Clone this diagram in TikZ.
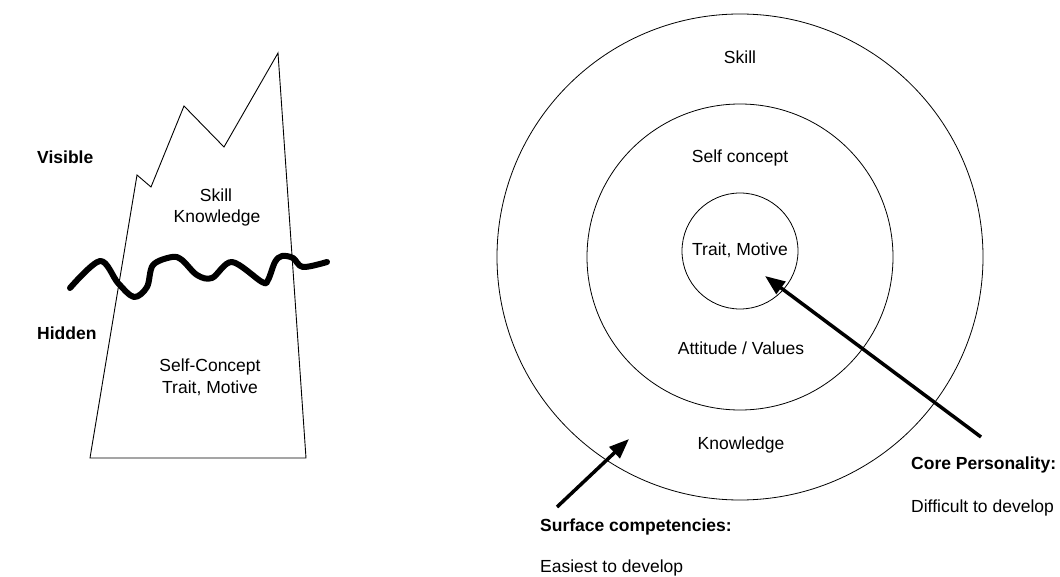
\documentclass[tikz,border=0pt]{standalone}
\usepackage{fontspec}
\setmainfont{Liberation Sans}
\usetikzlibrary{arrows.meta}
\begin{document}
\begin{tikzpicture}[x=1pt,y=-1pt,
  lbl/.style={inner sep=0pt,font=\fontsize{17.5}{21}\selectfont},
  blbl/.style={inner sep=0pt,anchor=west,font=\fontsize{17.5}{21}\selectfont\bfseries},
  plbl/.style={inner sep=0pt,anchor=west,font=\fontsize{17.5}{21}\selectfont},
  ring/.style={draw,line width=0.8pt},
  pointer/.style={line width=3.5pt,-{Triangle[length=20pt,width=15pt]}},
  wave/.style={line width=6pt,line cap=round,line join=round}]
\useasboundingbox (0,0) rectangle (1060,577);
% iceberg
\draw[line width=0.9pt] (90,458) -- (137,175) -- (151,187) -- (184,106) -- (224,147) -- (278,53) -- (306,458) -- cycle;
\node[blbl] (vis) at (37,157) {Visible};
\node[blbl] (hid) at (37,333) {Hidden};
\node[lbl] (sk1) at (216,195) {Skill};
\node[lbl] (kn1) at (217,218) {Knowledge};
\node[lbl] (sc1) at (210,367) {Self-Concept};
\node[lbl] (tm1) at (210,388) {Trait, Motive};
\draw[wave] plot[smooth,tension=0.55] coordinates {(70,288) (100,261) (118,283) (134,297) (147,287) (153,265) (172,257) (182,260) (197,275) (212,278) (232,262) (262,282) (268,280) (275,262) (282,256) (293,258) (303,267) (327,262)};
% circles
\node[ring,circle,minimum size=486pt,inner sep=0pt] (outer) at (740,257) {};
\node[ring,circle,minimum size=306pt,inner sep=0pt] (middle) at (740,257) {};
\node[ring,circle,minimum size=116pt,inner sep=0pt] (inner) at (740,251) {};
\node[lbl] (sk2) at (740,57) {Skill};
\node[lbl] (scp) at (740,158) {Self concept};
\node[lbl] (tm2) at (740,250) {Trait, Motive};
\node[lbl] (av) at (741,348) {Attitude / Values};
\node[lbl] (kn2) at (741,445) {Knowledge};
% labels and arrows
\node[blbl] (core) at (911,465) {Core Personality:};
\node[plbl] (diff) at (911,508) {Difficult to develop};
\node[blbl] (surf) at (540,527) {Surface competencies:};
\node[plbl] (easy) at (540,568) {Easiest to develop};
\coordinate (t1) at (981,437);
\coordinate (h1) at (765,276);
\coordinate (t2) at (557,507);
\coordinate (h2) at (629,439);
\draw[pointer] (t1) -- (h1);
\draw[pointer] (t2) -- (h2);
\end{tikzpicture}
\end{document}
